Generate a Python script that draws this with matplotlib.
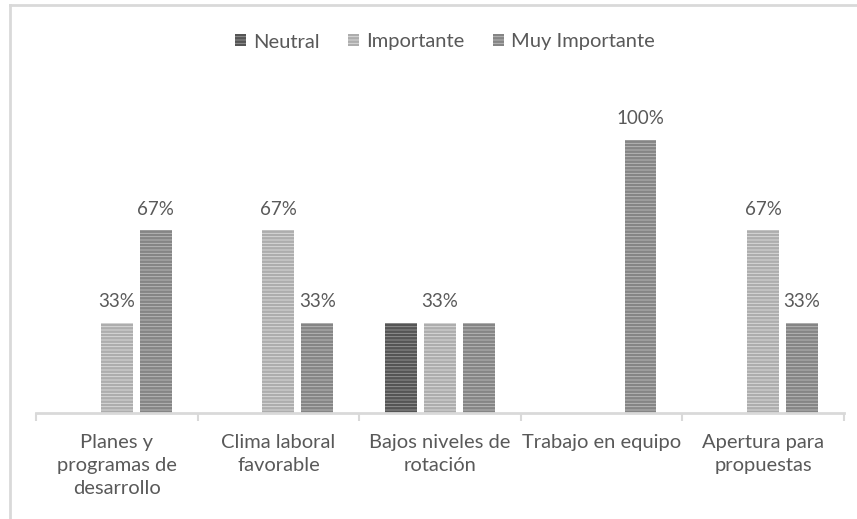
import numpy as np
import matplotlib.pyplot as plt
from matplotlib.lines import Line2D

plt.rcParams['font.family'] = ['Lato', 'DejaVu Sans']

categorias = ['Planes y\nprogramas de\ndesarrollo', 'Clima laboral\nfavorable',
              'Bajos niveles de\nrotación', 'Trabajo en equipo', 'Apertura para\npropuestas']
series = ['Neutral', 'Importante', 'Muy Importante']
neutral = [0, 0, 0.33, 0, 0]
importante = [0.33, 0.67, 0.33, 0, 0.67]
muy_importante = [0.67, 0.33, 0.33, 1.0, 0.33]
# which bars carry a value label
etiquetas = [[False] * 5,
             [True, True, True, False, True],
             [True, True, False, True, True]]

valores = [neutral, importante, muy_importante]
relleno = ['#9a9a9a', '#dedede', '#bdbdbd']
rayas = ['#555555', '#adadad', '#858585']
gris_texto = '#595959'
gris_linea = '#d9d9d9'

plt.rcParams['hatch.linewidth'] = 1.8

fig = plt.figure(figsize=(8.57, 5.19), dpi=100)
ax = fig.add_axes([36 / 857, 106 / 519, 808 / 857, 327.6 / 519])

x = np.arange(len(categorias)) + 0.5
ancho = 32 / 162
paso = 39 / 162
for k, vals in enumerate(valores):
    pos = x + (k - 1) * paso
    bars = ax.bar(pos, vals, ancho, color=relleno[k], edgecolor=rayas[k],
                  linewidth=0, hatch='-----', label=series[k])
    for b, v, mostrar in zip(bars, vals, etiquetas[k]):
        if mostrar and v > 0:
            ax.annotate(f'{v:.0%}', (b.get_x() + b.get_width() / 2, v),
                        xytext=(0, 9), textcoords='offset points',
                        ha='center', va='bottom', fontsize=13.5, color=gris_texto)

ax.set_xlim(0, 5)
ax.set_ylim(0, 1.2)
ax.set_yticks([])
ax.set_xticks(x)
ax.set_xticklabels(categorias, fontsize=14.5, color=gris_texto, linespacing=1.42)
ax.tick_params(axis='x', which='major', length=0, pad=15)
ax.set_xticks(np.arange(6), minor=True)
ax.tick_params(axis='x', which='minor', length=6, width=1.5, color=gris_linea)
for lado in ['top', 'right', 'left']:
    ax.spines[lado].set_visible(False)
ax.spines['bottom'].set_color(gris_linea)
ax.spines['bottom'].set_linewidth(2)

# chart frame
fig.add_artist(Line2D([10 / 857, 1], [1 - 5 / 519] * 2, color=gris_linea, lw=2))
fig.add_artist(Line2D([10 / 857] * 2, [0, 1 - 5 / 519], color=gris_linea, lw=2))

handles = [plt.Rectangle((0, 0), 1, 1, facecolor=relleno[k], edgecolor=rayas[k],
                         linewidth=0, hatch='-----') for k in range(3)]
fig.legend(handles, series, loc='center', bbox_to_anchor=(445 / 857, 1 - 42 / 519),
           ncol=3, frameon=False, fontsize=14.5, labelcolor=gris_texto,
           handlelength=0.55, handleheight=0.55, handletextpad=0.35, columnspacing=1.4)

fig.savefig('out.png', dpi=100)
